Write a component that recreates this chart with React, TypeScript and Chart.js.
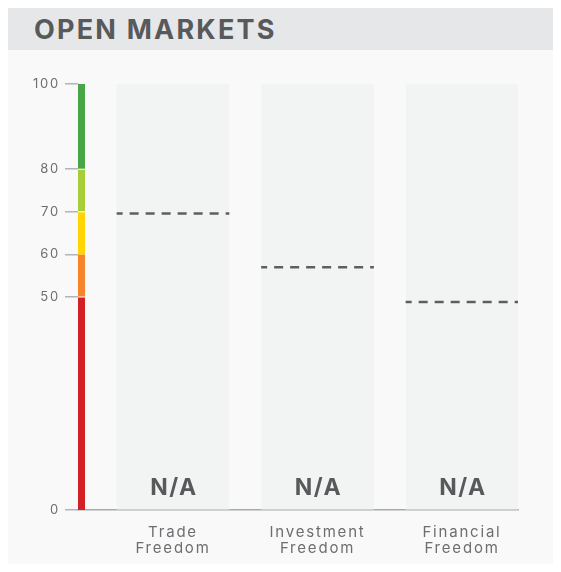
import React, { useEffect, useRef } from 'react';
import { Chart, registerables } from 'chart.js';

Chart.register(...registerables);

const TITLE = 'OPEN MARKETS';
const CATEGORIES = [
  ['Trade', 'Freedom'],
  ['Investment', 'Freedom'],
  ['Financial', 'Freedom'],
];
const CATEGORY_POS = [1, 2, 3];
const SCORE_LABELS = ['N/A', 'N/A', 'N/A'];
const COLUMN_MAX = [100, 100, 100];
const WORLD_AVERAGES = [69.6, 57.0, 48.8];
const Y_TICKS = [0, 50, 60, 70, 80, 100];
const BAND_LIMITS = [0, 50, 60, 70, 80, 100];
const BAND_COLORS = ['#d31f26', '#f6842a', '#ffd400', '#a6ce39', '#48a646'];

const FONT = 'Inter, "Open Sans", sans-serif';
const TEXT_DARK = '#58595b';
const TEXT_MID = '#6d6e71';

const HALF_W = 0.39;

const decorPlugin = {
  id: 'decor',
  beforeDraw(chart: any) {
    chart.ctx.letterSpacing = '1.8px';
  },
  afterDatasetsDraw(chart: any) {
    const { ctx, chartArea, scales } = chart;
    const y = scales.y;
    const x = scales.x;
    ctx.save();
    const left = chartArea.left;
    for (let i = 0; i < BAND_COLORS.length; i++) {
      const top = y.getPixelForValue(BAND_LIMITS[i + 1]);
      const bot = y.getPixelForValue(BAND_LIMITS[i]);
      ctx.fillStyle = BAND_COLORS[i];
      ctx.fillRect(left, top, 7, bot - top);
    }
    ctx.fillStyle = '#ffffff';
    [50, 70, 80].forEach((v) => {
      const p = y.getPixelForValue(v);
      ctx.fillRect(left, p - 0.5, 7, 1);
    });
    ctx.fillStyle = TEXT_DARK;
    ctx.font = `bold 23px ${FONT}`;
    ctx.letterSpacing = '1.5px';
    ctx.textAlign = 'center';
    ctx.textBaseline = 'alphabetic';
    CATEGORY_POS.forEach((pos, i) => {
      ctx.fillText(SCORE_LABELS[i], x.getPixelForValue(pos) + 1, y.getPixelForValue(0) - 15);
    });
    ctx.restore();
  },
};

export default function App() {
  const ref = useRef<HTMLCanvasElement>(null);

  useEffect(() => {
    document.documentElement.style.overflow = 'hidden';
    document.body.style.overflow = 'hidden';
    const datasets: any[] = [
      {
        type: 'bar',
        data: CATEGORY_POS.map((p, i) => ({ x: p, y: COLUMN_MAX[i] })),
        backgroundColor: '#f2f4f4',
        barThickness: 112,
        order: 10,
      },
      ...CATEGORY_POS.map((p, i) => ({
        type: 'line',
        data: [
          { x: p - HALF_W, y: WORLD_AVERAGES[i] },
          { x: p + HALF_W, y: WORLD_AVERAGES[i] },
        ],
        borderColor: '#5d5e61',
        borderWidth: 2.5,
        borderDash: [9, 7],
        borderDashOffset: 3,
        pointRadius: 0,
        fill: false,
        order: 0,
      })),
    ];
    const chart = new Chart(ref.current!, {
      type: 'bar',
      data: { datasets },
      plugins: [decorPlugin],
      options: {
        animation: false,
        responsive: false,
        maintainAspectRatio: false,
        layout: { padding: { left: 0, right: 43, top: 34, bottom: 0 } },
        plugins: { legend: { display: false }, tooltip: { enabled: false } },
        scales: {
          x: {
            type: 'linear',
            min: 0.3426,
            max: 3.3875,
            offset: false,
            grid: { display: false, drawTicks: false, offset: false },
            border: { display: true, color: '#a7a9ac', width: 1.5 },
            afterBuildTicks: (scale: any) => {
              scale.ticks = CATEGORY_POS.map((v) => ({ value: v }));
            },
            afterFit: (scale: any) => {
              scale.height = 54;
            },
            ticks: {
              autoSkip: false,
              maxRotation: 0,
              padding: 14,
              color: TEXT_MID,
              font: { family: FONT, size: 15, lineHeight: 1.07 },
              callback: (_v: any, i: number) => CATEGORIES[i],
            },
          },
          y: {
            type: 'linear',
            min: 0,
            max: 100,
            border: { display: false },
            grid: {
              drawOnChartArea: false,
              drawTicks: true,
              tickLength: 13,
              color: '#b3b4b6',
              lineWidth: 1.5,
            },
            afterBuildTicks: (scale: any) => {
              scale.ticks = Y_TICKS.map((v) => ({ value: v }));
            },
            afterFit: (scale: any) => {
              scale.width = 70;
            },
            ticks: {
              padding: 5,
              color: TEXT_MID,
              font: { family: FONT, size: 13 },
              callback: (v: any) => String(v),
            },
          },
        },
      },
    });
    return () => chart.destroy();
  }, []);

  return (
    <div style={{ width: 561, height: 564, background: '#f9f9f9', marginBottom: -8 }}>
      <div
        style={{
          height: 42,
          background: '#e6e7e8',
          display: 'flex',
          alignItems: 'center',
          paddingLeft: 26,
          paddingTop: 1,
          fontFamily: FONT,
          fontWeight: 700,
          fontSize: 27,
          letterSpacing: 2.2,
          color: TEXT_DARK,
          boxSizing: 'border-box',
        }}
      >
        {TITLE}
      </div>
      <canvas ref={ref} width={553} height={514} style={{ display: 'block' }} />
    </div>
  );
}
